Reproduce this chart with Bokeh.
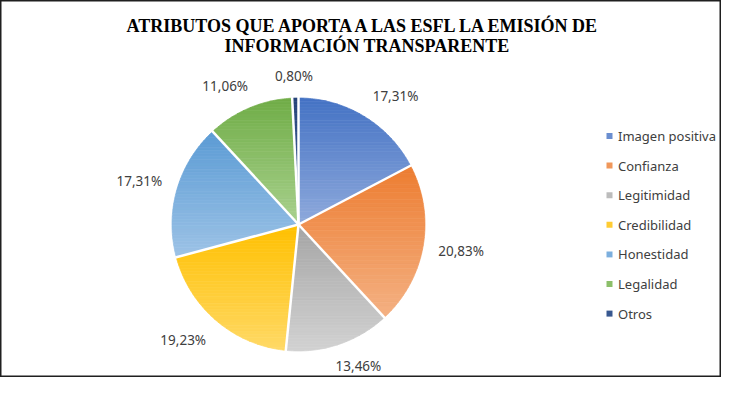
import numpy as np
from bokeh.plotting import figure
from bokeh.models import Range1d, ColumnDataSource
from bokeh.core.properties import value
from bokeh.embed import file_html
from bokeh.resources import INLINE

# ---------------- data ----------------
categories = ["Imagen positiva", "Confianza", "Legitimidad", "Credibilidad",
              "Honestidad", "Legalidad", "Otros"]
percentages = [17.31, 20.83, 13.46, 19.23, 17.31, 11.06, 0.80]
pct_labels = ["17,31%", "20,83%", "13,46%", "19,23%", "17,31%", "11,06%", "0,80%"]
dark_colors = ["#4472C4", "#ED7D31", "#A5A5A5", "#FFC000", "#5B9BD5", "#70AD47", "#264478"]
light_colors = ["#8FAADC", "#F4B183", "#D2D2D2", "#FFD966", "#9DC3E6", "#A9D18E", "#4A6BA8"]
title_lines = ["ATRIBUTOS QUE APORTA  A LAS ESFL LA EMISIÓN DE",
               "INFORMACIÓN TRANSPARENTE"]

# ---------------- layout ----------------
W, H = 721, 377
PAGE_H = 393
CX, CY, R = 298.0, PAGE_H - 224.0, 126.5

p = figure(width=W, height=H, x_range=Range1d(0, W), y_range=Range1d(PAGE_H - H, PAGE_H),
           output_backend="svg", toolbar_location=None, min_border=0)
p.axis.visible = False
p.grid.visible = False
p.background_fill_color = "white"
p.border_fill_color = "white"
p.outline_line_color = "#1f1f1f"
p.outline_line_width = 2


def hex2rgb(h):
    h = h.lstrip("#")
    return np.array([int(h[i:i + 2], 16) for i in (0, 2, 4)], dtype=float)


def mix(c1, c2, t):
    c = hex2rgb(c1) * (1 - t) + hex2rgb(c2) * t
    return "#%02x%02x%02x" % tuple(int(round(v)) for v in c)


def clip_half(pts, inside, inter):
    out = []
    n = len(pts)
    for i in range(n):
        P, Q = pts[i - 1], pts[i]
        if inside(Q):
            if not inside(P):
                out.append(inter(P, Q))
            out.append(Q)
        elif inside(P):
            out.append(inter(P, Q))
    return out


def cut_y(c):
    def f(P, Q):
        t = (c - P[1]) / (Q[1] - P[1])
        return (P[0] + t * (Q[0] - P[0]), c)
    return f


fracs = np.array(percentages) / sum(percentages)
cum = np.concatenate([[0], np.cumsum(fracs)])
start_ang = np.pi / 2 - 2 * np.pi * cum[:-1]
end_ang = np.pi / 2 - 2 * np.pi * cum[1:]

xs, ys, cols = [], [], []
N = 40
for i in range(len(categories)):
    a = np.linspace(start_ang[i], end_ang[i], max(8, int(abs(end_ang[i] - start_ang[i]) * 60)))
    poly = [(CX, CY)] + [(CX + R * np.cos(t), CY + R * np.sin(t)) for t in a]
    ymin = min(q[1] for q in poly)
    ymax = max(q[1] for q in poly)
    edges = np.linspace(ymax, ymin, N + 1)
    for k in range(N):
        hi, lo = edges[k], edges[k + 1]
        pts = clip_half(poly, lambda q, hi=hi: q[1] <= hi + 1e-9, cut_y(hi))
        if len(pts) < 3:
            continue
        pts = clip_half(pts, lambda q, lo=lo: q[1] >= lo - 1e-9, cut_y(lo))
        if len(pts) < 3:
            continue
        xs.append([q[0] for q in pts])
        ys.append([q[1] for q in pts])
        cols.append(mix(dark_colors[i], light_colors[i], (k + 0.5) / N))

p.patches(xs="xs", ys="ys", fill_color="cols", line_color="cols", line_width=0.7,
          source=ColumnDataSource(dict(xs=xs, ys=ys, cols=cols)))

# white separators
bang = np.pi / 2 - 2 * np.pi * cum[:-1]
p.segment(x0=[CX] * len(bang), y0=[CY] * len(bang),
          x1=list(CX + (R + 1) * np.cos(bang)), y1=list(CY + (R + 1) * np.sin(bang)),
          line_color="white", line_width=2.5)

# data labels (outside end)
mid = (start_ang + end_ang) / 2
RL = R + 13.5
lx, ly = [], []
for i, m in enumerate(mid):
    hw = len(pct_labels[i]) * 4.1
    hh = 9
    px, py = CX + RL * np.cos(m), CY + RL * np.sin(m)
    lx.append(px + hw * np.clip(2 * np.cos(m), -1, 1))
    ly.append(py + hh * np.clip(2 * np.sin(m), -1, 1))
p.text(x=lx, y=ly, text=pct_labels, text_align="center", text_baseline="middle",
       text_font=value("Noto Sans"), text_font_size="13.5px", text_color="#404040")

# title
p.text(x=[366.5, 366.5], y=[PAGE_H - 25, PAGE_H - 45], text=title_lines, text_align="center",
       text_baseline="middle", text_font=value("Liberation Serif"), text_font_style="bold",
       text_font_size="18px", text_color="#000000")

# legend
leg_y = [PAGE_H - (135.5 + 29.6 * i) for i in range(len(categories))]
leg_cols = [mix(dark_colors[i], light_colors[i], 0.5) for i in range(len(categories))]
p.scatter(x=[609] * len(categories), y=leg_y, marker="square", size=6,
          fill_color=leg_cols, line_color=None)
p.text(x=[617.5] * len(categories), y=leg_y, text=categories, text_align="left",
       text_baseline="middle", text_font=value("Noto Sans"), text_font_size="13px",
       text_color="#404040")

open("out.html", "w").write(file_html(p, INLINE))
